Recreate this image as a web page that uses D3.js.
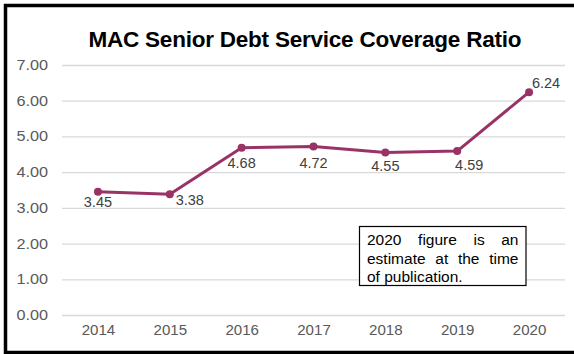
<!DOCTYPE html>
<html>
<head>
<meta charset="utf-8">
<script src="https://cdn.jsdelivr.net/npm/d3@7"></script>
<style>
  html, body { margin: 0; padding: 0; background: #fff; }
  svg { display: block; font-family: "Liberation Sans", Arial, sans-serif; }
</style>
</head>
<body>
<svg id="chart" width="574" height="354"></svg>
<script>
// Valores
const years  = ['2014', '2015', '2016', '2017', '2018', '2019', '2020'];
const ratios = [3.45, 3.38, 4.68, 4.72, 4.55, 4.59, 6.24];
const yTicks = [0, 1, 2, 3, 4, 5, 6, 7];
const noteLines = ['2020 figure is an', 'estimate at the time', 'of publication.'];

// deslocamento dos rotulos de dados (dx, dy do centro) relativo ao ponto
const LABEL_OFF = [[0, 10], [20, 6], [0, 15], [0, 16], [0, 13], [12, 14], [17, -9]];

const W = 574, H = 354;
const M = { top: 65, right: 9, bottom: 39, left: 62 };
const LINE_COLOR = '#993366';
const FONT = '"Liberation Sans", Arial, sans-serif';

const svg = d3.select('#chart');

// o original parece esticado na horizontal; alarga o texto por um fator k
function stretch(sel, k) {
  sel.each(function () {
    const w = this.getComputedTextLength();
    d3.select(this).attr('textLength', w * k).attr('lengthAdjust', 'spacingAndGlyphs');
  });
}

// moldura (sem borda direita, como no original)
svg.append('path')
  .attr('d', `M${W + 5},5.5 H5.5 V352.5 H${W + 5}`)
  .attr('fill', 'none').attr('stroke', '#000').attr('stroke-width', 3.5);

svg.append('text')
  .attr('x', 305).attr('y', 46.5)
  .attr('text-anchor', 'middle')
  .attr('font-size', 22.5).attr('font-weight', 'bold').attr('fill', '#000')
  .attr('textLength', 433).attr('lengthAdjust', 'spacing')
  .text('MAC Senior Debt Service Coverage Ratio');

const x = d3.scalePoint().domain(years)
  .range([M.left, W - M.right]).padding(0.5);
const y = d3.scaleLinear().domain([0, 7]).range([H - M.bottom, M.top]);

// grade horizontal + rotulos do eixo y
const yAxis = d3.axisLeft(y).tickValues(yTicks)
  .tickSize(-(W - M.right - M.left)).tickFormat(d3.format('.2f')).tickPadding(14);
const gy = svg.append('g').attr('transform', `translate(${M.left},0)`).call(yAxis);
gy.select('.domain').remove();
gy.selectAll('.tick line').attr('stroke', '#d9d9d9').attr('stroke-width', 1.3);
gy.selectAll('.tick text').attr('font-size', 14).attr('fill', '#595959')
  .attr('font-family', FONT).call(stretch, 1.16);

// eixo x (so rotulos)
const xAxis = d3.axisBottom(x).tickSize(0).tickPadding(10);
const gx = svg.append('g').attr('transform', `translate(0,${H - M.bottom})`).call(xAxis);
gx.select('.domain').remove();
gx.selectAll('.tick text').attr('font-size', 14.5).attr('fill', '#595959')
  .attr('font-family', FONT).call(stretch, 1.04);

// linha
const line = d3.line().x((d, i) => x(years[i])).y(d => y(d));
svg.append('path').datum(ratios)
  .attr('d', line).attr('fill', 'none')
  .attr('stroke', LINE_COLOR).attr('stroke-width', 3).attr('stroke-linejoin', 'round');

svg.selectAll('circle.pt').data(ratios).join('circle')
  .attr('class', 'pt')
  .attr('cx', (d, i) => x(years[i])).attr('cy', d => y(d))
  .attr('r', 4).attr('fill', LINE_COLOR);

// rotulos de dados
svg.selectAll('text.lbl').data(ratios).join('text')
  .attr('class', 'lbl')
  .attr('x', (d, i) => x(years[i]) + LABEL_OFF[i][0])
  .attr('y', (d, i) => y(d) + LABEL_OFF[i][1])
  .attr('dy', '0.35em')
  .attr('text-anchor', 'middle')
  .attr('font-size', 14.5).attr('fill', '#404040')
  .text(d => d3.format('.2f')(d));

// caixa de nota com texto justificado
const box = { x: 359.5, y: 226.5, w: 166.5, h: 59 };
svg.append('rect')
  .attr('x', box.x).attr('y', box.y).attr('width', box.w).attr('height', box.h)
  .attr('fill', '#fff').attr('stroke', '#000').attr('stroke-width', 1.2);

const padX = 7.5, lineH = 18.5;
noteLines.forEach((ln, li) => {
  const words = ln.split(' ');
  const baseY = box.y + 18.5 + li * lineH;
  const last = li === noteLines.length - 1;
  const nodes = words.map(w => svg.append('text')
    .attr('y', baseY).attr('font-size', 15.5).attr('fill', '#000').text(w));
  const widths = nodes.map(n => n.node().getComputedTextLength());
  const inner = box.w - 2 * padX;
  const total = d3.sum(widths);
  const space = last ? 4.3 : (inner - total) / (words.length - 1);
  let cx = box.x + padX;
  nodes.forEach((n, i) => { n.attr('x', cx); cx += widths[i] + space; });
});
</script>
</body>
</html>
